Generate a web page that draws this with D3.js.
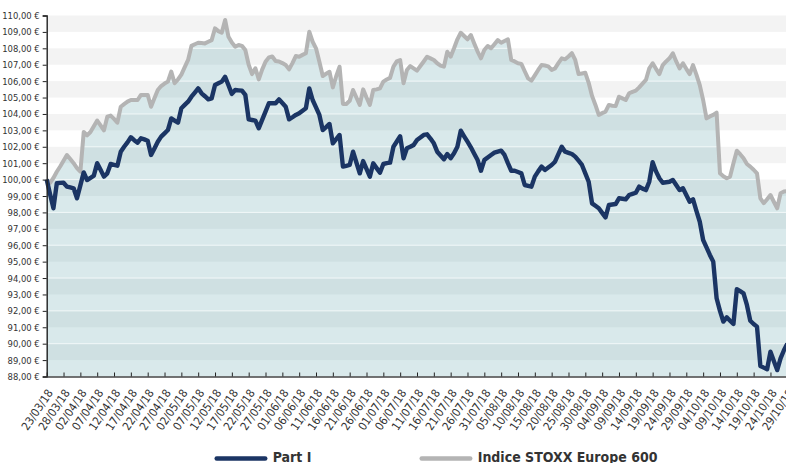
<!doctype html>
<html lang="fr">
<head>
<meta charset="UTF-8">
<title>Part I / Indice STOXX Europe 600</title>
<script src="https://cdn.jsdelivr.net/npm/d3@7"></script>
<style>
body{margin:0;background:#fff;overflow:hidden;}
svg text{font-family:"Liberation Sans Narrow","DejaVu Sans Condensed","Roboto Condensed","Arial Narrow",sans-serif;fill:#333;}
</style>
</head>
<body>
<script>
// daily values (calendar days) from 23/03/18 to 29/10/18
var startDate = "23/03/18";
var endDate = "29/10/18";

var partI = [
100.0,99.1,98.25,99.78,99.8,99.81,99.57,99.52,99.47,98.86,
99.65,100.44,99.97,100.1,100.24,101.0,100.6,100.18,100.38,100.95,
100.9,100.85,101.7,102.0,102.27,102.58,102.4,102.25,102.52,102.45,
102.37,101.5,101.9,102.31,102.62,102.82,103.02,103.73,103.6,103.47,
104.35,104.55,104.75,105.05,105.3,105.56,105.26,105.08,104.89,104.95,
105.77,105.87,105.97,106.27,105.75,105.22,105.46,105.44,105.42,105.16,
103.67,103.63,103.59,103.13,103.64,104.14,104.65,104.65,104.65,104.89,
104.67,104.44,103.67,103.8,103.94,104.04,104.2,104.35,105.56,104.85,
104.4,103.94,103.02,103.2,103.39,102.21,102.46,102.72,100.79,100.84,
100.89,101.7,101.04,100.38,101.13,100.65,100.18,100.99,100.7,100.42,
100.95,101.0,101.03,102.0,102.32,102.64,101.3,101.91,102.0,102.11,
102.41,102.56,102.72,102.76,102.5,102.21,101.7,101.47,101.24,101.56,
101.3,101.6,102.0,102.98,102.64,102.31,101.97,101.58,101.19,100.54,
101.19,101.35,101.5,101.64,101.7,101.76,101.5,101.0,100.54,100.54,
100.46,100.38,99.67,99.62,99.57,100.18,100.5,100.79,100.59,100.74,
100.89,101.09,101.55,102.0,101.7,101.63,101.56,101.4,101.15,100.89,
100.38,99.87,98.55,98.4,98.25,97.97,97.7,98.45,98.48,98.51,
98.86,98.83,98.8,99.06,99.13,99.2,99.57,99.45,99.36,99.87,
101.06,100.5,100.08,99.81,99.84,99.87,99.98,99.67,99.36,99.47,
99.06,98.65,98.8,98.1,97.43,96.32,95.87,95.41,95.0,92.77,
92.0,91.35,91.61,91.4,91.2,93.32,93.2,93.07,92.36,91.4,
91.2,91.04,88.64,88.54,88.44,89.51,88.95,88.39,89.11,89.6,
90.0
];

var stoxx = [
100.0,99.8,100.1,100.48,100.8,101.15,101.5,101.25,101.0,100.7,
100.48,102.9,102.7,102.9,103.25,103.6,103.3,103.0,103.83,103.9,
103.7,103.47,104.44,104.6,104.75,104.85,104.85,104.85,105.16,105.16,
105.16,104.44,104.95,105.46,105.7,105.85,105.97,106.58,105.87,106.1,
106.4,106.85,107.29,108.15,108.25,108.34,108.32,108.3,108.4,108.5,
109.22,109.05,108.95,109.73,108.7,108.35,108.1,108.2,108.15,107.9,
107.0,106.43,106.78,106.11,106.7,107.18,107.45,107.5,107.23,107.2,
107.1,106.98,106.72,107.1,107.53,107.49,107.6,107.7,109.01,108.4,
108.0,107.18,106.31,106.45,106.57,105.62,106.3,106.88,104.61,104.61,
104.8,105.46,105.0,104.55,105.5,105.0,104.55,105.46,105.5,105.56,
105.97,106.1,106.2,106.88,107.2,107.29,105.87,106.68,106.92,106.78,
106.64,106.92,107.2,107.49,107.39,107.29,107.09,106.95,106.88,107.79,
107.49,108.0,108.55,108.95,108.75,108.55,108.81,108.3,107.8,107.39,
107.9,108.14,108.0,108.25,108.5,108.34,108.45,108.55,107.29,107.2,
107.09,107.05,106.6,106.17,106.03,106.35,106.68,106.98,106.95,106.9,
106.68,106.78,107.1,107.39,107.33,107.5,107.7,107.29,106.43,106.47,
106.51,105.9,105.1,104.55,103.94,104.05,104.14,104.55,104.5,104.48,
105.05,104.95,104.85,105.26,105.35,105.42,105.62,105.85,106.07,106.78,
107.09,106.75,106.43,106.98,107.2,107.39,107.7,107.2,106.78,107.09,
106.75,106.43,106.98,106.4,105.76,104.85,103.73,103.85,103.94,104.08,
100.38,100.2,100.08,100.18,101.0,101.76,101.55,101.3,100.95,100.79,
100.6,100.38,98.86,98.56,98.8,99.06,98.65,98.25,99.17,99.27,
99.3
];

var seriesNames = ["Part I", "Indice STOXX Europe 600"];
var seriesColors = ["#1b3564", "#b4b4b4"];
var yMin = 88, yMax = 110;
var tickEveryDays = 5;

window.onload = function(){
	var w = 786, h = 463;
	var plotLeft = 46.7, plotTop = 15.5, plotBottom = 376.5, plotRight = 787.3;

	var parse = d3.utcParse("%d/%m/%y");
	var fmtDate = d3.utcFormat("%d/%m/%y");
	var t0 = parse(startDate), t1 = parse(endDate);
	var days = d3.utcDay.range(t0, d3.utcDay.offset(t1, 1));

	var x = d3.scaleUtc().domain([t0, t1]).range([plotLeft, plotRight]);
	var y = d3.scaleLinear().domain([yMin, yMax]).range([plotBottom, plotTop]);

	var svg = d3.select("body").append("svg")
		.attr("width", w)
		.attr("height", h);

	var defs = svg.append("defs");
	var bands = d3.range(yMin + 1, yMax, 2); // odd bands [k, k+1]

	// background stripes
	svg.append("g").selectAll("rect")
		.data(bands)
		.enter()
		.append("rect")
		.attr("x", plotLeft)
		.attr("y", function(k){ return y(k + 1); })
		.attr("width", w - plotLeft)
		.attr("height", function(k){ return y(k) - y(k + 1); })
		.attr("fill", "#f3f3f3");

	var area = d3.area()
		.x(function(d, i){ return x(days[i]); })
		.y0(plotBottom)
		.y1(function(d){ return y(d); });

	svg.append("path")
		.datum(stoxx)
		.attr("d", area)
		.attr("fill", "#d9e9eb");

	defs.append("clipPath")
		.attr("id", "under")
		.append("path")
		.datum(stoxx)
		.attr("d", area);

	var inside = svg.append("g").attr("clip-path", "url(#under)");
	inside.selectAll("rect")
		.data(bands)
		.enter()
		.append("rect")
		.attr("x", plotLeft)
		.attr("y", function(k){ return y(k + 1); })
		.attr("width", w - plotLeft)
		.attr("height", function(k){ return y(k) - y(k + 1); })
		.attr("fill", "#cfe0e2");
	inside.selectAll("line")
		.data(d3.range(yMin + 2, yMax, 2))
		.enter()
		.append("line")
		.attr("x1", plotLeft)
		.attr("x2", w)
		.attr("y1", function(k){ return y(k); })
		.attr("y2", function(k){ return y(k); })
		.attr("stroke", "#f2f8f9")
		.attr("stroke-width", 1);

	var line = d3.line()
		.x(function(d, i){ return x(days[i]); })
		.y(function(d){ return y(d); });

	svg.append("path")
		.datum(stoxx)
		.attr("d", line)
		.attr("fill", "none")
		.attr("stroke", seriesColors[1])
		.attr("stroke-width", 4)
		.attr("stroke-linejoin", "round");

	svg.append("path")
		.datum(partI)
		.attr("d", line)
		.attr("fill", "none")
		.attr("stroke", seriesColors[0])
		.attr("stroke-width", 4.4)
		.attr("stroke-linejoin", "round");

	// y axis
	var euro = function(v){ return d3.format(".2f")(v).replace(".", ",") + " \u20ac"; };
	var yAxis = svg.append("g")
		.attr("transform", "translate(" + plotLeft + ",0)")
		.call(d3.axisLeft(y).tickValues(d3.range(yMin, yMax + 1)).tickSize(4).tickPadding(3).tickFormat(euro));
	yAxis.attr("font-family", null);
	yAxis.select(".domain").attr("stroke", "#222").attr("stroke-width", 1.4);
	yAxis.selectAll(".tick line").attr("stroke", "#222");
	yAxis.selectAll("text").attr("font-size", "9.4px").attr("fill", "#333");

	// x axis
	var tickDates = d3.range(0, days.length, tickEveryDays).map(function(i){ return days[i]; });
	var xAxis = svg.append("g")
		.attr("transform", "translate(0," + plotBottom + ")")
		.call(d3.axisBottom(x).tickValues(tickDates).tickSizeInner(-4).tickSizeOuter(0).tickFormat(fmtDate));
	xAxis.attr("font-family", null);
	xAxis.select(".domain").attr("stroke", "#444").attr("stroke-width", 1.6);
	xAxis.selectAll(".tick line").attr("stroke", "#222");
	xAxis.selectAll("text")
		.attr("font-size", "11.5px")
		.attr("text-anchor", "end")
		.attr("fill", "#333")
		.attr("y", 0)
		.attr("dy", "0.35em")
		.attr("transform", "translate(3,14) rotate(-56)");

	// legend
	var legendX = [216.7, 421.7];
	var legend = svg.append("g").selectAll("g")
		.data(seriesNames)
		.enter()
		.append("g")
		.attr("transform", function(d, i){ return "translate(" + legendX[i] + ",458.5)"; });
	legend.append("line")
		.attr("x1", 0)
		.attr("x2", 48.5)
		.attr("stroke", function(d, i){ return seriesColors[i]; })
		.attr("stroke-width", 4.5)
		.attr("stroke-linecap", "round");
	legend.append("text")
		.attr("x", 56)
		.attr("y", 3.5)
		.attr("font-size", "14px")
		.attr("font-weight", "bold")
		.attr("fill", "#222")
		.text(function(d){ return d; });
};
</script>
</body>
</html>
